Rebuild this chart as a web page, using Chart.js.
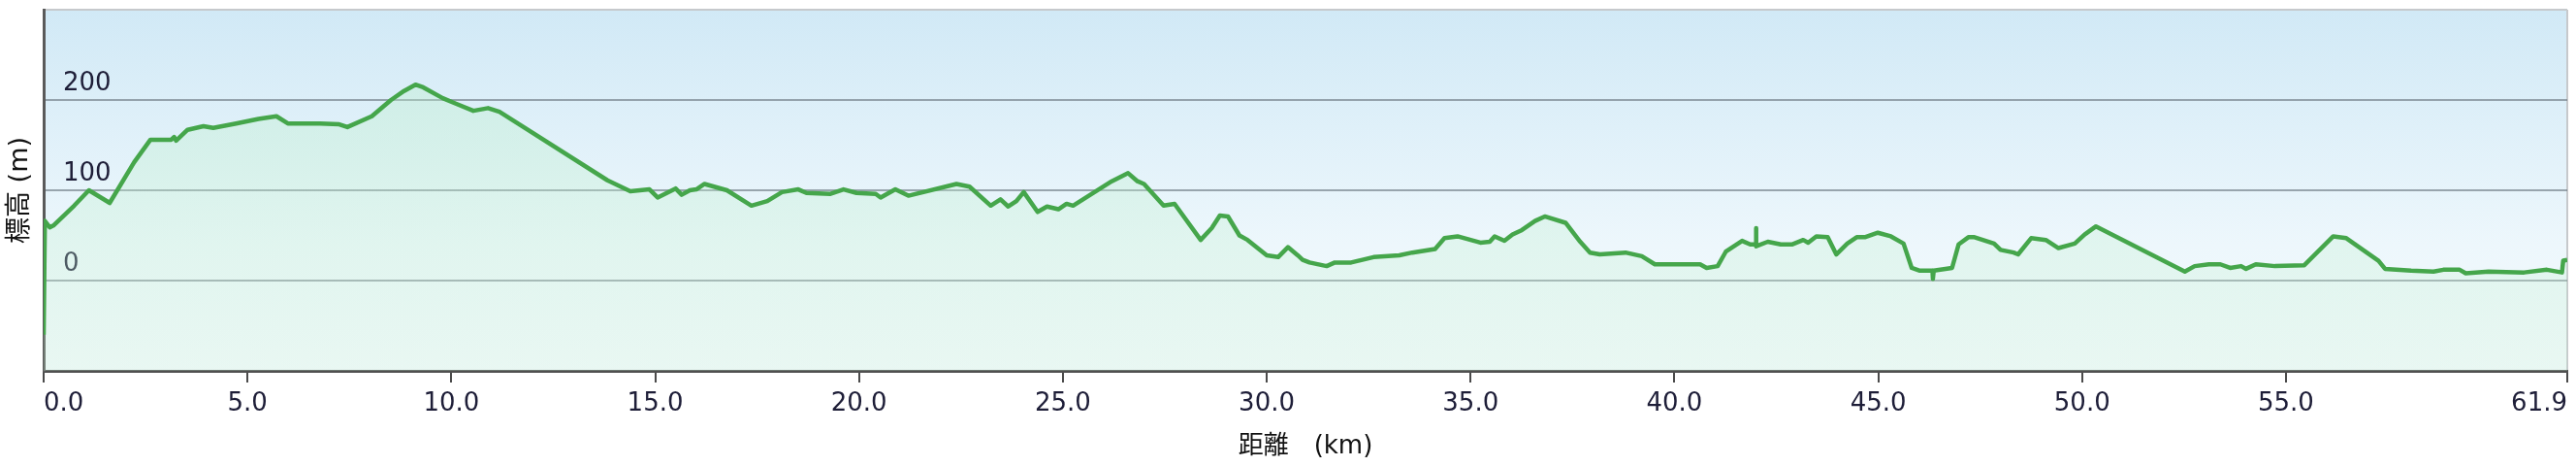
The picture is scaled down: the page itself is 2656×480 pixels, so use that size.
<!DOCTYPE html>
<html>
<head>
<meta charset="utf-8">
<script src="https://cdn.jsdelivr.net/npm/chart.js@4.4.1/dist/chart.umd.min.js"></script>
<style>
  html, body { margin: 0; padding: 0; background: #fff; }
  #wrap { width: 2656px; height: 480px; }
</style>
</head>
<body>
<div id="wrap"><canvas id="elevChart" width="2656" height="480"></canvas></div>
<script>
// 距離 (km)
const distanceKm = [
  0.00, 0.03, 0.15, 0.24, 0.75, 1.11, 1.62, 2.22, 2.62, 3.13, 3.20, 3.25, 3.53, 3.92, 4.16, 4.72,
  5.27, 5.71, 5.99, 6.78, 7.25, 7.45, 8.05, 8.52, 8.84, 9.12, 9.31, 9.79, 10.11, 10.54, 10.90, 11.18,
  13.83, 14.39, 14.86, 15.06, 15.50, 15.65, 15.85, 16.01, 16.21, 16.76, 17.36, 17.75, 18.11, 18.51,
  18.71, 19.30, 19.62, 19.94, 20.41, 20.53, 20.89, 21.21, 22.39, 22.71, 23.23, 23.47, 23.66, 23.86,
  24.04, 24.38, 24.61, 24.89, 25.09, 25.25, 25.88, 26.20, 26.60, 26.83, 26.99, 27.47, 27.74, 28.38,
  28.65, 28.85, 29.05, 29.33, 29.53, 30.00, 30.28, 30.52, 30.76, 30.88, 31.05, 31.47, 31.67, 32.07,
  32.62, 33.25, 33.57, 34.13, 34.36, 34.68, 35.24, 35.47, 35.59, 35.83, 36.03, 36.26, 36.58, 36.82,
  37.33, 37.69, 37.93, 38.17, 38.80, 39.20, 39.52, 40.63, 40.79, 41.06, 41.26, 41.66, 41.86, 41.99,
  42.00, 42.01, 42.29, 42.61, 42.88, 43.16, 43.28, 43.48, 43.76, 43.97, 44.24, 44.47, 44.67, 44.99,
  45.31, 45.62, 45.82, 46.02, 46.33, 46.34, 46.36, 46.81, 46.97, 47.21, 47.36, 47.84, 48.00, 48.32,
  48.43, 48.75, 49.11, 49.42, 49.82, 50.06, 50.34, 52.52, 52.76, 53.11, 53.39, 53.63, 53.90, 54.02,
  54.26, 54.73, 55.45, 56.16, 56.48, 57.27, 57.43, 58.07, 58.62, 58.86, 59.26, 59.41, 59.97, 60.84,
  61.40, 61.77, 61.80, 61.90
];

// 標高 (m)
const elevationM = [
  -60, 66, 59, 61, 83, 100, 86, 131, 156, 156, 159, 155, 167, 171, 169, 174,
  179, 182, 174, 174, 173, 170, 182, 200, 210, 217, 214, 202, 196, 188, 191, 187,
  111, 99, 101, 92, 102, 95, 100, 101, 107, 100, 83, 88, 98, 101,
  97, 96, 101, 97, 96, 92, 101, 94, 107, 104, 83, 90, 82, 88,
  98, 76, 82, 79, 85, 83, 101, 110, 119, 110, 107, 83, 85, 45,
  58, 72, 71, 50, 45, 28, 26, 37, 28, 23, 20, 16, 20, 20,
  26, 28, 31, 35, 47, 49, 42, 43, 49, 44, 51, 56, 66, 71,
  64, 43, 31, 29, 31, 27, 18, 18, 14, 16, 32, 44, 40, 40,
  58, 38, 43, 40, 40, 45, 42, 49, 48, 29, 41, 48, 48, 53,
  49, 41, 14, 11, 11, 2, 11, 14, 40, 48, 48, 41, 34, 31,
  29, 47, 45, 36, 41, 51, 60, 10, 16, 18, 18, 14, 16, 13,
  18, 16, 17, 49, 47, 22, 13, 11, 10, 12, 12, 8, 10, 9,
  12, 9, 22, 23
];

const xTickValues = [0, 5, 10, 15, 20, 25, 30, 35, 40, 45, 50, 55, 61.9];
const yTickValues = [-100, 0, 100, 200, 300];
const yLabelValues = [0, 100, 200];

const points = distanceKm.map((d, i) => ({ x: d, y: elevationM[i] }));

// 背景のグラデーション（プロット領域）
const plotBackground = {
    id: 'plotBackground',
    beforeDraw(chart) {
        const { ctx, chartArea } = chart;
        if (!chartArea) return;
        const g = ctx.createLinearGradient(0, chartArea.top, 0, chartArea.bottom);
        g.addColorStop(0, '#d1e9f6');
        g.addColorStop(0.65, '#edf7fc');
        g.addColorStop(1, '#f3f9fc');
        ctx.save();
        ctx.fillStyle = g;
        ctx.fillRect(chartArea.left, chartArea.top, chartArea.right - chartArea.left, chartArea.bottom - chartArea.top);
        ctx.restore();
    }
};

const ctx = document.getElementById('elevChart').getContext('2d');
new Chart(ctx, {
    type: 'line',
    data: {
        datasets: [{
            label: '標高',
            data: points,
            borderColor: '#45a64b',
            borderWidth: 4.5,
            borderJoinStyle: 'round',
            pointRadius: 0,
            tension: 0,
            fill: 'start',
            backgroundColor: function(context) {
                const { ctx, chartArea } = context.chart;
                if (!chartArea) return 'rgba(190,240,200,0.3)';
                const g = ctx.createLinearGradient(0, chartArea.top, 0, chartArea.bottom);
                g.addColorStop(0, 'rgba(185,238,200,0.4)');
                g.addColorStop(1, 'rgba(200,242,212,0.24)');
                return g;
            }
        }]
    },
    plugins: [plotBackground],
    options: {
        responsive: false,
        animation: false,
        layout: {
            padding: { top: 10, right: 9, left: 0, bottom: 0 }
        },
        plugins: {
            legend: { display: false },
            tooltip: { enabled: false }
        },
        scales: {
            x: {
                type: 'linear',
                min: 0,
                max: 61.9,
                afterBuildTicks: scale => {
                    scale.ticks = xTickValues.map(v => ({ value: v }));
                },
                afterFit: scale => {
                    scale.height = 98;
                    scale.paddingLeft = 0;
                    scale.paddingRight = 0;
                },
                ticks: {
                    align: 'inner',
                    padding: 7,
                    color: '#1e1e38',
                    font: { family: 'DejaVu Sans', size: 26 },
                    callback: v => Number(v).toFixed(1)
                },
                grid: {
                    color: c => (c.tick && c.tick.value === 61.9) ? '#c6c9cc' : 'transparent',
                    tickColor: '#4a4a4a',
                    tickLength: 12,
                    lineWidth: 2
                },
                border: { display: true, color: '#505050', width: 3 },
                title: {
                    display: true,
                    text: '距離　(km)',
                    color: '#111',
                    font: { family: "'DejaVu Sans', 'Noto Sans CJK JP'", size: 26 },
                    padding: { top: 0, bottom: 4 }
                }
            },
            y: {
                min: -100,
                max: 300,
                afterBuildTicks: scale => {
                    scale.ticks = yTickValues.map(v => ({ value: v }));
                },
                afterFit: scale => {
                    scale.width = 45;
                    scale.paddingTop = 0;
                    scale.paddingBottom = 0;
                },
                ticks: {
                    mirror: true,
                    padding: 20,
                    labelOffset: -17,
                    color: '#1e1e38',
                    font: { family: 'DejaVu Sans', size: 26 },
                    callback: v => yLabelValues.includes(v) ? String(v) : ''
                },
                grid: {
                    color: c => {
                        const v = c.tick ? c.tick.value : null;
                        if (v === 300) return '#c6c9cc';
                        if (v === -100) return 'transparent';
                        return 'rgba(100,112,122,0.6)';
                    },
                    lineWidth: 2,
                    drawTicks: false
                },
                border: { display: true, color: '#5a5a5a', width: 3 },
                title: {
                    display: true,
                    text: '標高 (m)',
                    color: '#111',
                    font: { family: "'DejaVu Sans', 'Noto Sans CJK JP'", size: 27 },
                    padding: { top: 5, bottom: 0 }
                }
            }
        }
    }
});
</script>
</body>
</html>
